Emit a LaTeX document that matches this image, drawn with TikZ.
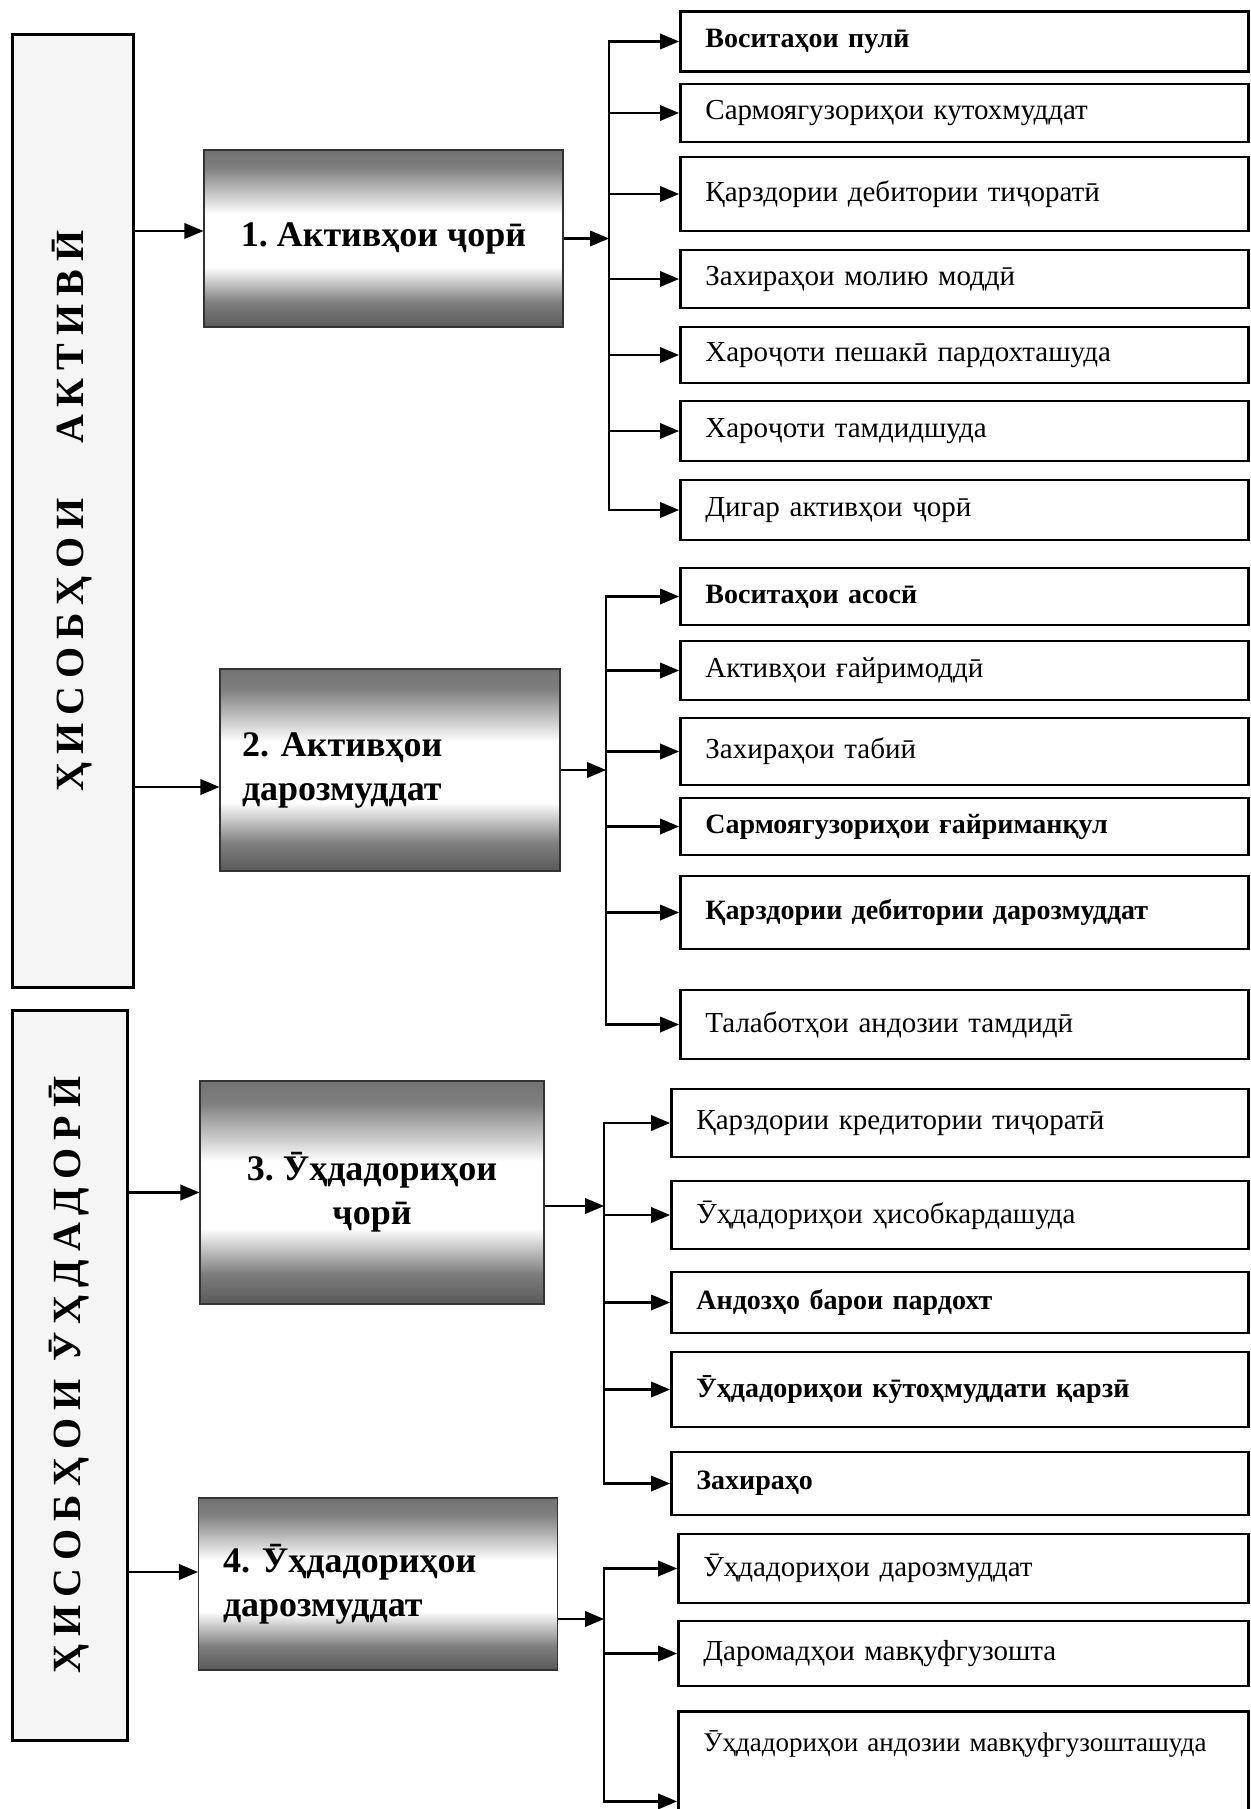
\documentclass[tikz,border=0pt]{standalone}
\usepackage{fontspec}
\setmainfont{Liberation Serif}
\newfontfamily\spacedfont[LetterSpace=20]{Liberation Serif}
\usetikzlibrary{arrows}
\usetikzlibrary{positioning, calc}
\frenchspacing

\pgfdeclareverticalshading{midshade}{100bp}{color(0bp)=(black!65); color(25bp)=(black!65); color(32bp)=(black!50); color(37bp)=(black!25); color(42bp)=(white); color(57bp)=(white); color(62bp)=(black!20); color(70bp)=(black!50); color(75bp)=(black!55); color(100bp)=(black!55)}

\tikzset{
  side/.style={draw, line width=1.5pt, fill=black!4, rotate=90, inner sep=0pt,
    font=\spacedfont\bfseries\fontsize{20}{24}\selectfont},
  group/.style={draw=black!80, line width=0.6pt, shading=midshade, inner sep=0pt,
    font=\bfseries\fontsize{18}{22}\selectfont},
  item/.style={draw, line width=1.4pt, fill=white, anchor=west, align=left,
    text width=259pt, inner xsep=12.5pt, font=\fontsize{14.5}{17}\selectfont},
  strong/.style={font=\bfseries\fontsize{14}{17}\selectfont},
  arr/.style={-triangle 45, line width=1.2pt},
  bus/.style={line width=1.2pt, line cap=rect}
}

\begin{document}
\begin{tikzpicture}[x=0.5pt, y=-0.5pt]
      \useasboundingbox (0,0) rectangle (1250,1809);
      \clip (0,0) rectangle (1250,1809);

      % accounts
      \node[side, minimum width=476pt, minimum height=60.5pt] (aktiv) at (72.5,511) {ҲИСОБҲОИ\hspace{18pt} АКТИВӢ};
      \node[side, minimum width=365pt, minimum height=57.5pt] (uhda) at (69.5,1375) {ҲИСОБҲОИ ӮҲДАДОРӢ};

      \node[group, minimum width=179.5pt, minimum height=88.5pt] (m1) at (383.5,238.5) {1. Активҳои ҷорӣ};
      \node[group, minimum width=170pt, minimum height=101pt, align=left, text width=148pt] (m2) at (390,770) {2. Активҳои\\дарозмуддат};
      \node[group, minimum width=172pt, minimum height=111.5pt, align=center] (m3) at (372,1192.5) {3. Ӯҳдадориҳои\\ҷорӣ};
      \node[group, minimum width=179.5pt, minimum height=86pt, align=left, text width=155pt] (m4) at (378,1584) {4. Ӯҳдадориҳои\\дарозмуддат};

      % items
      \node[item, strong, minimum height=30pt] (r1) at (679,41.5) {Воситаҳои пулӣ};
      \node[item, minimum height=29pt] (r2) at (679,113) {Сармоягузориҳои кутохмуддат};
      \node[item, minimum height=37pt] (r3) at (679,194) {Қарздории дебитории тиҷоратӣ};
      \node[item, minimum height=29pt] (r4) at (679,279) {Захираҳои молию моддӣ};
      \node[item, minimum height=28pt] (r5) at (679,355) {Хароҷоти пешакӣ пардохташуда};
      \node[item, minimum height=30pt] (r6) at (679,431) {Хароҷоти тамдидшуда};
      \node[item, minimum height=30pt] (r7) at (679,510) {Дигар активҳои ҷорӣ};

      \node[item, strong, minimum height=28.5pt] (r8) at (679,596.5) {Воситаҳои асосӣ};
      \node[item, minimum height=29.5pt] (r9) at (679,670.5) {Активҳои ғайримоддӣ};
      \node[item, minimum height=33.5pt] (r10) at (679,751.5) {Захираҳои табиӣ};
      \node[item, strong, minimum height=28.5pt] (r11) at (679,826.5) {Сармоягузориҳои ғайриманқул};
      \node[item, strong, minimum height=36.5pt] (r12) at (679,912.5) {Қарздории дебитории дарозмуддат};
      \node[item, minimum height=34.5pt] (r13) at (679,1024.5) {Талаботҳои андозии тамдидӣ};

      \node[item, text width=263.5pt, minimum height=34pt] (r14) at (670,1123) {Қарздории кредитории тиҷоратӣ};
      \node[item, text width=263.5pt, minimum height=34pt] (r15) at (670,1215) {Ӯҳдадориҳои ҳисобкардашуда};
      \node[item, strong, text width=263.5pt, minimum height=30.5pt] (r16) at (670,1302.5) {Андозҳо барои пардохт};
      \node[item, strong, text width=263.5pt, minimum height=37.5pt] (r17) at (670,1389.5) {Ӯҳдадориҳои кӯтоҳмуддати қарзӣ};
      \node[item, strong, text width=263.5pt, minimum height=31.5pt] (r18) at (670,1483.5) {Захираҳо};

      \node[item, text width=260pt, minimum height=34.5pt] (r19) at (677,1568.5) {Ӯҳдадориҳои дарозмуддат};
      \node[item, text width=260pt, minimum height=32.5pt] (r20) at (677,1653.5) {Даромадҳои мавқуфгузошта};
      \node[item, text width=260pt, anchor=north west, inner ysep=6pt, text height=14pt, text depth=64pt,
        font=\fontsize{13.5}{16}\selectfont] (r21) at (677,1710) {Ӯҳдадориҳои андозии мавқуфгузошташуда};

      % arrows into the groups
      \coordinate (a1) at ([yshift=3.75pt]m1.west);
      \coordinate (a2) at ([yshift=-8.5pt]m2.west);
      \coordinate (a4) at ([yshift=6pt]m4.west);
      \draw[arr] (aktiv.south |- a1) -- (a1);
      \draw[arr] (aktiv.south |- a2) -- (a2);
      \draw[arr] (uhda.south |- m3.west) -- (m3.west);
      \draw[arr] (uhda.south |- a4) -- (a4);

      % buses
      \coordinate (b1) at (609,0);
      \coordinate (b2) at (606,0);
      \coordinate (b3) at (604,0);
      \coordinate (b4) at (604,0);
      \coordinate (c3) at ([yshift=-6.75pt]m3.east);
      \coordinate (c4) at ([yshift=-17.5pt]m4.east);

      \draw[arr] (m1.east) -- (b1 |- m1.east);
      \draw[bus] (b1 |- r1.west) -- (b1 |- r7.west);
      \foreach \i in {1,...,7} \draw[arr] (b1 |- r\i.west) -- (r\i.west);

      \draw[arr] (m2.east) -- (b2 |- m2.east);
      \draw[bus] (b2 |- r8.west) -- (b2 |- r13.west);
      \foreach \i in {8,...,13} \draw[arr] (b2 |- r\i.west) -- (r\i.west);

      \draw[arr] (c3) -- (b3 |- c3);
      \draw[bus] (b3 |- r14.west) -- (b3 |- r18.west);
      \foreach \i in {14,...,18} \draw[arr] (b3 |- r\i.west) -- (r\i.west);

      \draw[arr] (c4) -- (b4 |- c4);
      \draw[bus] (b4 |- r19.west) -- (b4 |- r21.west);
      \foreach \i in {19,...,21} \draw[arr] (b4 |- r\i.west) -- (r\i.west);
\end{tikzpicture}
\end{document}
